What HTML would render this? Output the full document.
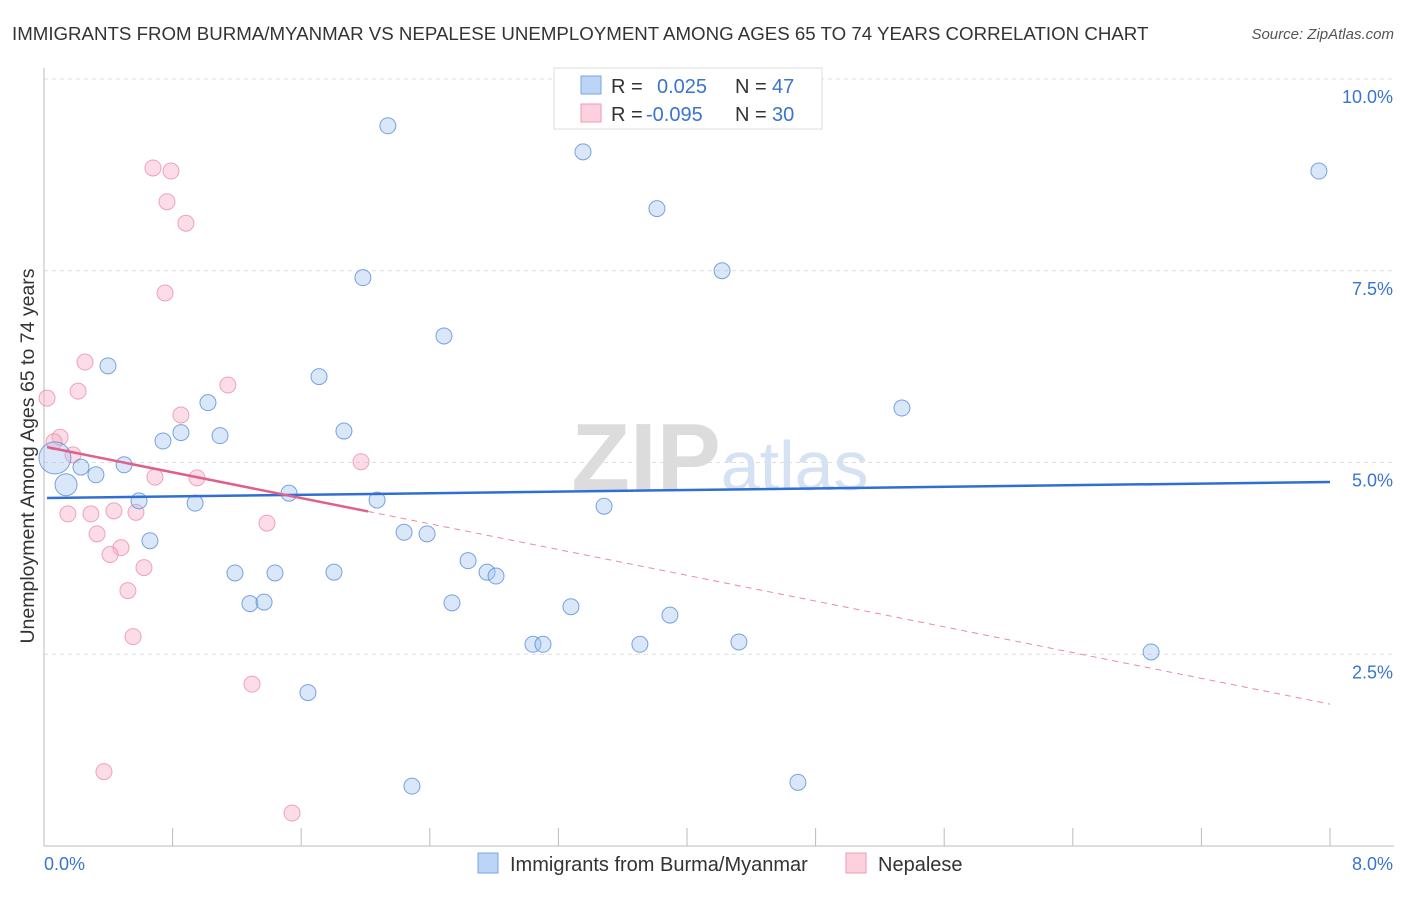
<!DOCTYPE html>
<html><head><meta charset="utf-8"><style>
body{margin:0;background:#fff;font-family:"Liberation Sans",sans-serif;}
svg text{font-family:"Liberation Sans",sans-serif;}
</style></head><body>
<svg id="c" width="1406" height="892">
<text x="12" y="40" font-size="18.7" fill="#333">IMMIGRANTS FROM BURMA/MYANMAR VS NEPALESE UNEMPLOYMENT AMONG AGES 65 TO 74 YEARS CORRELATION CHART</text>
<text x="1394" y="39" font-size="15" fill="#555" text-anchor="end" font-style="italic">Source: ZipAtlas.com</text>
<g id="grid"></g>
<text x="720" y="490" font-size="96" fill="#e4e4e4" text-anchor="middle" font-family="Liberation Serif"><tspan font-weight="bold" fill="#dcdcdc">ZIP</tspan><tspan fill="#d5e2f3" font-family="Liberation Sans" font-size="70">atlas</tspan></text>
<g id="marks"></g>
<text transform="translate(34,456) rotate(-90)" font-size="19.5" fill="#333" text-anchor="middle">Unemployment Among Ages 65 to 74 years</text>
<text x="44" y="870" font-size="18" fill="#3a74d0">0.0%</text>
<text x="1393" y="870" font-size="18" fill="#3a74d0" text-anchor="end">8.0%</text>
<g>
<rect x="554" y="68" width="268" height="61" fill="#fff" stroke="#ddd"/>
<rect x="581" y="76" width="20" height="18" fill="#bcd4f5" stroke="#7aa6e6"/>
<rect x="581" y="104" width="20" height="18" fill="#fcd0dc" stroke="#ef9ab3"/>
<text x="611" y="93" font-size="20" fill="#333">R = </text><text x="657" y="93" font-size="20" fill="#3a74d0">0.025</text>
<text x="735" y="93" font-size="20" fill="#333">N = </text><text x="772" y="93" font-size="20" fill="#3a74d0">47</text>
<text x="611" y="121" font-size="20" fill="#333">R = </text><text x="646" y="121" font-size="20" fill="#3a74d0">-0.095</text>
<text x="735" y="121" font-size="20" fill="#333">N = </text><text x="772" y="121" font-size="20" fill="#3a74d0">30</text>
</g>
<g>
<rect x="478" y="853" width="20" height="20" fill="#bcd4f5" stroke="#7aa6e6"/>
<text x="510" y="871" font-size="20" fill="#333">Immigrants from Burma/Myanmar</text>
<rect x="846" y="853" width="20" height="20" fill="#fcd0dc" stroke="#ef9ab3"/>
<text x="878" y="871" font-size="20" fill="#333">Nepalese</text>
</g>
</svg>
<script>
const yTicks=[2.5,5.0,7.5,10.0];
const yTickLabels=["2.5%","5.0%","7.5%","10.0%"];
const xTicks=[0,0.8,1.6,2.4,3.2,4.0,4.8,5.6,6.4,7.2,8.0];
const blueX=[2.139,3.353,7.931,3.813,4.218,1.984,2.488,0.398,1.711,1.020,5.337,1.866,0.852,1.095,0.740,0.068,0.498,0.230,0.323,0.137,1.524,2.072,0.591,0.940,3.484,0.659,2.240,2.383,2.638,2.756,2.812,1.188,1.437,1.804,1.281,1.369,2.538,3.278,3.894,3.042,3.104,3.707,4.323,6.887,1.642,2.289,4.690];
const blueY=[9.39,9.05,8.80,8.31,7.50,7.41,6.65,6.26,6.12,5.78,5.71,5.41,5.39,5.35,5.28,5.06,4.97,4.94,4.84,4.71,4.60,4.51,4.50,4.47,4.43,3.98,4.09,4.07,3.72,3.57,3.52,3.56,3.56,3.57,3.16,3.18,3.17,3.12,3.01,2.63,2.63,2.63,2.66,2.53,2.00,0.78,0.83];
const blueR=[8,8,8,8,8,8,8,8,8,8,8,8,8,8,8,16,8,8,8,11,8,8,8,8,8,8,8,8,8,8,8,8,8,8,8,8,8,8,8,8,8,8,8,8,8,8,8];
const pinkX=[0.678,0.790,0.765,0.883,0.753,0.255,0.212,0.019,1.144,0.852,0.100,0.062,0.180,1.972,0.690,0.952,0.149,0.292,0.435,0.572,1.387,0.330,0.479,0.411,0.622,0.522,0.554,1.294,0.373,1.543];
const pinkY=[8.84,8.80,8.40,8.12,7.21,6.31,5.93,5.84,6.01,5.62,5.33,5.27,5.10,5.01,4.81,4.80,4.33,4.33,4.37,4.35,4.21,4.07,3.89,3.80,3.63,3.33,2.73,2.11,0.97,0.43];
const blueTrendX=[0.019,8.0], blueTrendY=[4.537,4.746];
const pinkTrendX=[0.019,8.0], pinkTrendY=[5.20,1.85], pinkSolidEnd=2.016;

const X0=44,PX=160.75,Y0=846,PY=76.7;
const sx=v=>X0+v*PX, sy=v=>Y0-v*PY;
const NS="http://www.w3.org/2000/svg";
function mk(tag,attrs,parent){const e=document.createElementNS(NS,tag);for(const k in attrs)e.setAttribute(k,attrs[k]);parent.appendChild(e);return e;}
const grid=document.getElementById('grid'), marks=document.getElementById('marks');
yTicks.forEach((t,i)=>{
  const l=mk('line',{x1:44,x2:1394,y1:sy(t),y2:sy(t),stroke:'#ddd','stroke-dasharray':'4,4'},grid);
  
  
  const tx=mk('text',{x:1393,y:sy(t)+24,'font-size':18,fill:'#3a74d0','text-anchor':'end'},grid);
  tx.textContent=yTickLabels[i];
  
  
});
const ax=mk('line',{x1:44,x2:44,y1:68,y2:846,stroke:'#bbb'},grid);


const bx=mk('line',{x1:44,x2:1394,y1:846,y2:846,stroke:'#bbb'},grid);


xTicks.forEach(t=>{
  const l=mk('line',{x1:sx(t),x2:sx(t),y1:828,y2:846,stroke:'#bbb'},grid);
  
  
});
pinkX.forEach((v,i)=>{
  const c=mk('circle',{cx:sx(v),cy:sy(pinkY[i]),r:8,fill:'rgba(247,170,195,0.4)',stroke:'rgba(232,130,160,0.7)','stroke-width':1},marks);
  
  
});
blueX.forEach((v,i)=>{
  const c=mk('circle',{cx:sx(v),cy:sy(blueY[i]),r:blueR[i],fill:'rgba(160,195,240,0.4)',stroke:'rgba(80,135,215,0.75)','stroke-width':1},marks);
  
  
});
const bl=mk('line',{x1:sx(blueTrendX[0]),y1:sy(blueTrendY[0]),x2:sx(blueTrendX[1]),y2:sy(blueTrendY[1]),stroke:'#2f6fd3','stroke-width':2.5},marks);


const slope=(pinkTrendY[1]-pinkTrendY[0])/(pinkTrendX[1]-pinkTrendX[0]);
const pyEnd=pinkTrendY[0]+slope*(pinkSolidEnd-pinkTrendX[0]);
const pl=mk('line',{x1:sx(pinkTrendX[0]),y1:sy(pinkTrendY[0]),x2:sx(pinkSolidEnd),y2:sy(pyEnd),stroke:'#e0608c','stroke-width':2.5},marks);


const pd=mk('line',{x1:sx(pinkSolidEnd),y1:sy(pyEnd),x2:sx(pinkTrendX[1]),y2:sy(pinkTrendY[1]),stroke:'#e88aa8','stroke-width':1,'stroke-dasharray':'6,5'},marks);


</script>
</body></html>
